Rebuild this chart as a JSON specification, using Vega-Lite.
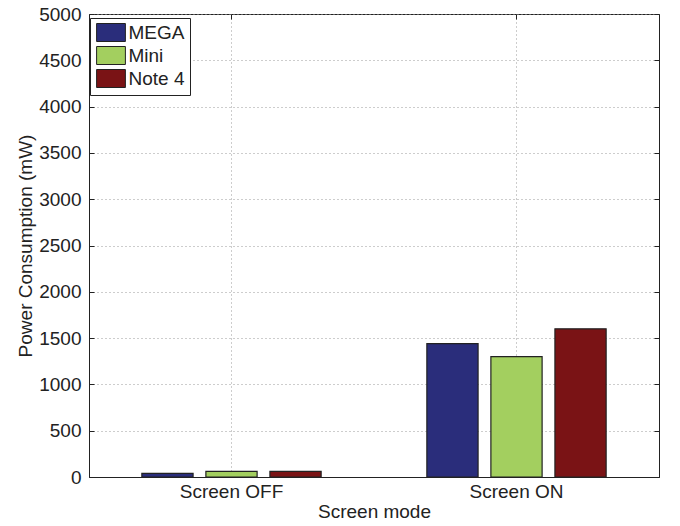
{
  "$schema": "https://vega.github.io/schema/vega-lite/v6.json",
  "width": 570,
  "height": 463,
  "autosize": "none",
  "padding": {"left": 89, "top": 14, "right": 21, "bottom": 49},
  "background": "white",
  "data": {
    "values": [
      {"mode": "Screen OFF", "device": "MEGA", "power": 40},
      {"mode": "Screen OFF", "device": "Mini", "power": 60},
      {"mode": "Screen OFF", "device": "Note 4", "power": 60},
      {"mode": "Screen ON", "device": "MEGA", "power": 1440},
      {"mode": "Screen ON", "device": "Mini", "power": 1300},
      {"mode": "Screen ON", "device": "Note 4", "power": 1600}
    ]
  },
  "layer": [
    {
      "mark": {"type": "bar", "stroke": "#222222", "strokeWidth": 1.2},
      "encoding": {
        "x": {
          "field": "mode",
          "type": "nominal",
          "title": "Screen mode",
          "scale": {"paddingInner": 0.326, "paddingOuter": 0.163},
          "axis": {
            "labelAngle": 0,
            "grid": true,
            "tickSize": -5,
            "labelPadding": 10,
            "titlePadding": 1
          }
        },
        "xOffset": {
          "field": "device",
          "type": "nominal",
          "scale": {"paddingInner": 0.2, "paddingOuter": 0.1}
        },
        "y": {
          "field": "power",
          "type": "quantitative",
          "title": "Power Consumption (mW)",
          "scale": {"domain": [0, 5000], "nice": false},
          "axis": {
            "values": [0, 500, 1000, 1500, 2000, 2500, 3000, 3500, 4000, 4500, 5000],
            "format": "d",
            "grid": true,
            "tickSize": -5,
            "labelPadding": 13,
            "titlePadding": 3
          }
        },
        "fill": {
          "field": "device",
          "type": "nominal",
          "title": null,
          "scale": {
            "domain": ["MEGA", "Mini", "Note 4"],
            "range": ["#2a2d7b", "#a3cf5f", "#7a1315"]
          },
          "legend": {
            "orient": "none",
            "legendX": 1,
            "legendY": 4,
            "padding": 5,
            "fillColor": "white",
            "strokeColor": "#222222",
            "symbolType": "M-1.6,-1H1.6V1H-1.6Z",
            "symbolSize": 324,
            "symbolOffset": 6.5,
            "symbolStrokeColor": "#222222",
            "symbolStrokeWidth": 1,
            "symbolOpacity": 1,
            "labelFontSize": 19,
            "labelColor": "#222222",
            "labelOffset": 8,
            "rowPadding": 0
          }
        }
      }
    },
    {
      "mark": {"type": "bar", "opacity": 0},
      "encoding": {
        "x": {
          "field": "mode",
          "type": "nominal",
          "axis": {
            "orient": "top",
            "title": null,
            "labels": false,
            "domain": false,
            "grid": false,
            "tickSize": -5
          }
        },
        "xOffset": {"field": "device", "type": "nominal"},
        "y": {
          "field": "power",
          "type": "quantitative",
          "axis": {
            "orient": "right",
            "title": null,
            "labels": false,
            "domain": false,
            "grid": false,
            "values": [0, 500, 1000, 1500, 2000, 2500, 3000, 3500, 4000, 4500, 5000],
            "tickSize": -5
          }
        }
      }
    }
  ],
  "resolve": {"axis": {"x": "independent", "y": "independent"}},
  "config": {
    "font": "Liberation Sans",
    "view": {"stroke": "#222222", "strokeWidth": 1},
    "axis": {
      "domainColor": "#222222",
      "tickColor": "#222222",
      "tickWidth": 1,
      "labelColor": "#222222",
      "titleColor": "#222222",
      "labelFontSize": 19,
      "titleFontSize": 19,
      "titleFontWeight": "normal",
      "gridDash": [1, 3],
      "gridColor": "#9a9a9a",
      "gridOpacity": 1
    }
  }
}
